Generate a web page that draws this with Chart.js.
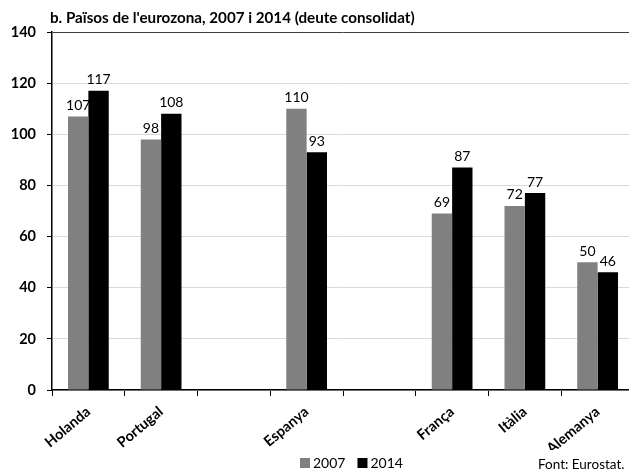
<!DOCTYPE html>
<html>
<head>
<meta charset="utf-8">
<script src="https://cdn.jsdelivr.net/npm/chart.js@4/dist/chart.umd.min.js"></script>
<style>
  html, body { margin: 0; padding: 0; background: #fff; overflow: hidden; }
  #wrap { width: 634px; height: 475px; position: relative; }
</style>
</head>
<body>
<div id="wrap"><canvas id="c"></canvas></div>
<script>
// Countries (blank slots keep the original spacing between groups)
const categories = ['Holanda', 'Portugal', '', 'Espanya', '', 'França', 'Itàlia', 'Alemanya'];
const debt2007 = [107, 98, null, 110, null, 69, 72, 50];
const debt2014 = [117, 108, null, 93, null, 87, 77, 46];
const yTicks = [0, 20, 40, 60, 80, 100, 120, 140];
const seriesNames = ['2007', '2014'];

const FONT = 'Lato, "Open Sans", "Liberation Sans", sans-serif';

// Values written above each bar
const valueLabels = {
  id: 'valueLabels',
  afterDatasetsDraw(chart) {
    const ctx = chart.ctx;
    ctx.save();
    ctx.font = '14px ' + FONT;
    ctx.fillStyle = '#000';
    ctx.textAlign = 'center';
    ctx.textBaseline = 'bottom';
    chart.data.datasets.forEach((ds, i) => {
      chart.getDatasetMeta(i).data.forEach((bar, j) => {
        const v = ds.data[j];
        if (v === null || v === undefined) return;
        ctx.fillText(String(v), bar.x, bar.y - 4);
      });
    });
    ctx.restore();
  }
};

// Heading, legend and source note
const decorations = {
  id: 'decorations',
  afterDraw(chart) {
    const ctx = chart.ctx;
    const area = chart.chartArea;
    ctx.save();
    ctx.fillStyle = '#000';
    ctx.textBaseline = 'middle';
    ctx.textAlign = 'left';
    ctx.font = 'bold 15.2px ' + FONT;
    ctx.fillText("b. Països de l'eurozona, 2007 i 2014 (deute consolidat)", area.left - 2, 18);

    ctx.font = '14px ' + FONT;
    let x = 300;
    const y = 463;
    chart.data.datasets.forEach(ds => {
      ctx.fillStyle = ds.backgroundColor;
      ctx.fillRect(x, y - 5, 10, 10);
      ctx.fillStyle = '#000';
      ctx.fillText(ds.label, x + 13, y);
      x += 13 + ctx.measureText(ds.label).width + 12;
    });

    ctx.font = '13.5px ' + FONT;
    ctx.fillText('Font: Eurostat.', 538, 465);
    ctx.restore();
  }
};

new Chart(document.getElementById('c'), {
  type: 'bar',
  data: {
    labels: categories,
    datasets: [
      { label: seriesNames[0], data: debt2007, backgroundColor: '#808080' },
      { label: seriesNames[1], data: debt2014, backgroundColor: '#000000' }
    ]
  },
  options: {
    responsive: true,
    maintainAspectRatio: false,
    animation: false,
    layout: { padding: { top: 32, right: 0, bottom: 25, left: 0 } },
    datasets: { bar: { barPercentage: 1, categoryPercentage: 0.56 } },
    plugins: {
      legend: { display: false },
      tooltip: { enabled: false },
      title: { display: false }
    },
    scales: {
      x: {
        grid: {
          display: true,
          drawOnChartArea: false,
          drawTicks: true,
          tickLength: 6,
          tickColor: '#000',
          offset: true
        },
        border: { color: '#000', width: 1.5 },
        ticks: {
          autoSkip: false,
          maxRotation: 40,
          minRotation: 40,
          padding: 7,
          color: '#000',
          font: { family: FONT, size: 14.5, weight: 'bold' }
        },
        afterFit(scale) { scale.height = 60; }
      },
      y: {
        min: 0,
        max: 140,
        afterBuildTicks(scale) { scale.ticks = yTicks.map(v => ({ value: v })); },
        grid: {
          color: ctx => (ctx.tick && ctx.tick.value === 140 ? '#404040' : '#d9d9d9'),
          lineWidth: 1,
          tickLength: 5,
          tickColor: '#000'
        },
        border: { color: '#000', width: 1.5 },
        ticks: {
          padding: 11,
          color: '#000',
          font: { family: FONT, size: 14.5, weight: 'bold' }
        },
        afterFit(scale) { scale.width = 52; }
      }
    }
  },
  plugins: [valueLabels, decorations]
});
</script>
</body>
</html>
